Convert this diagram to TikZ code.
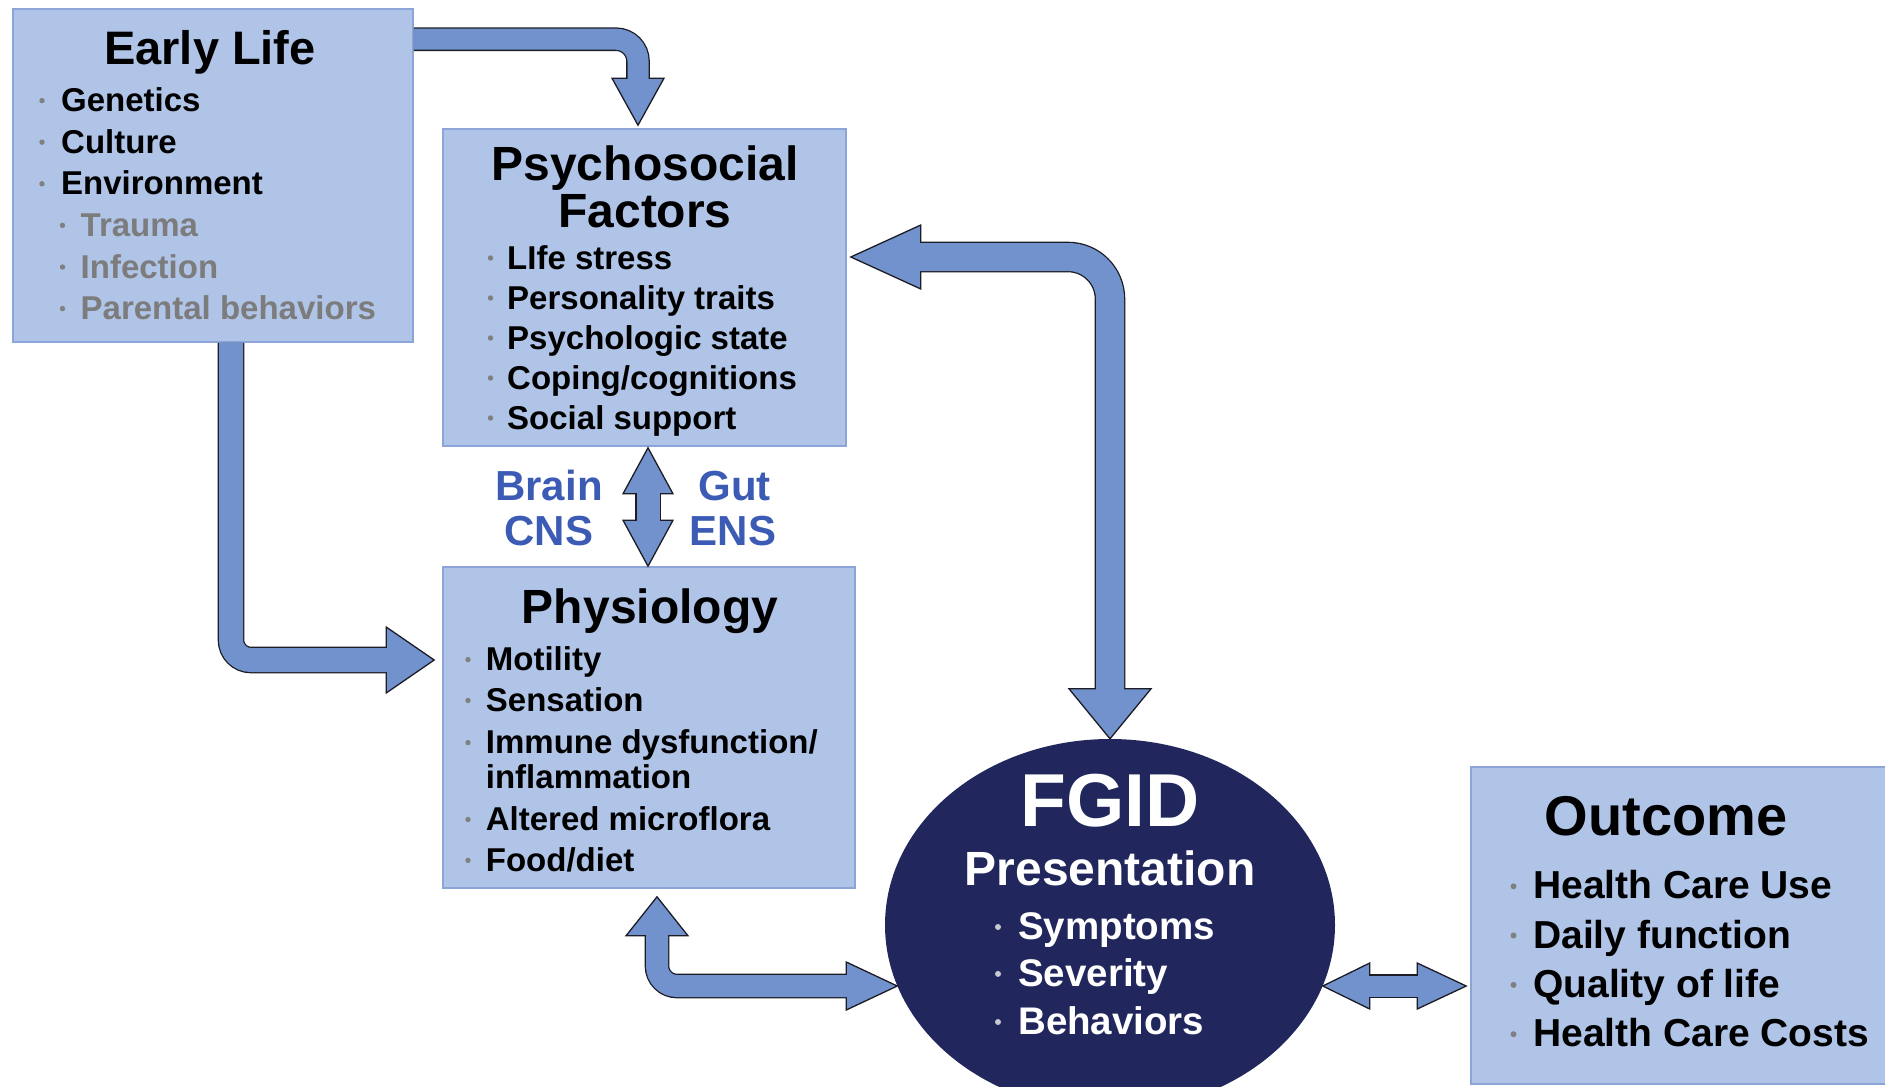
\documentclass[tikz,border=0pt]{standalone}
\usepackage{fontspec}
\setmainfont{Liberation Sans}
\usetikzlibrary{calc,shapes.geometric}

\definecolor{boxfill}{HTML}{B0C4E8}
\definecolor{boxline}{HTML}{8CA4D8}
\definecolor{arrowfill}{HTML}{7292CE}
\definecolor{arrowedge}{HTML}{1C1C24}
\definecolor{navy}{HTML}{21275C}
\definecolor{linkblue}{HTML}{3B5BB5}
\definecolor{dotgrey}{HTML}{808080}
\definecolor{subgrey}{HTML}{7C7C7C}
\definecolor{lightdot}{HTML}{C8C8D0}

\tikzset{
  box/.style={draw=boxline, fill=boxfill, line width=1.6pt, inner sep=0pt},
  title/.style={font=\bfseries\fontsize{48}{50}\selectfont, anchor=base, inner sep=0pt},
  item/.style={font=\bfseries\fontsize{33}{36}\selectfont, anchor=base west, inner sep=0pt},
  link/.style={font=\bfseries\fontsize{42}{44}\selectfont, anchor=base, inner sep=0pt, text=linkblue},
  fathead/.style={fill=arrowfill, draw=arrowedge, line width=1.3pt, line join=miter},
}

% tip, direction, length, half width
\newcommand{\headtip}[4]{\filldraw[fathead, shift={(#1)}, rotate=#2] (0,0) -- (-#3,#4) -- (-#3,-#4) -- cycle;}
% shaft width, corner radius, path, heads
\newcommand{\fatarrow}[4]{%
  \draw[arrowedge, line width=#1pt+2.6pt, rounded corners=#2pt] #3;
  #4
  \draw[arrowfill, line width=#1pt, rounded corners=#2pt] #3;}

\begin{document}
\begin{tikzpicture}[x=1pt, y=-1pt]
\useasboundingbox (0,0) rectangle (1885,1087);

% boxes
\node[box, minimum width=400pt, minimum height=333pt] (early) at (213,175.5) {};
\node[box, minimum width=403pt, minimum height=317pt] (psych) at (644.5,287.5) {};
\node[box, minimum width=412pt, minimum height=321pt] (physio) at (649,727.5) {};
\node[box, minimum width=424pt, minimum height=317pt] (outcome) at (1683,925.5) {};
\node[ellipse, fill=navy, minimum width=450pt, minimum height=372pt, inner sep=0pt] (fgid) at (1110,925) {};

% early life
\node[title, font=\bfseries\fontsize{47}{50}\selectfont] (early-title) at (210,64.5) {Early Life};
\foreach \txt [count=\i from 0] in {Genetics, Culture, Environment} {
  \fill[dotgrey] (42,111.6+41.6*\i-11) circle (2.7);
  \node[item] (early-\i) at (61,111.6+41.6*\i) {\txt};
}
\foreach \txt [count=\i from 3] in {Trauma, Infection, Parental behaviors} {
  \fill[dotgrey] (62.5,111.6+41.6*\i-11) circle (2.7);
  \node[item, text=subgrey] (early-\i) at (80.5,111.6+41.6*\i) {\txt};
}

% psychosocial
\node[title] (psych-title) at (645,180.7) {Psychosocial};
\node[title] (psych-title2) at (645,227.6) {Factors};
\foreach \txt [count=\i from 0] in {LIfe stress, Personality traits, Psychologic state, Coping/cognitions, Social support} {
  \fill[dotgrey] (490.5,269+40*\i-11) circle (2.7);
  \node[item] (psych-\i) at (507,269+40*\i) {\txt};
}

% brain gut
\node[link] (brain) at (549,500.7) {Brain};
\node[link] (cns) at (549,545) {CNS};
\node[link] (gut) at (734.5,500.7) {Gut};
\node[link] (ens) at (733,545) {ENS};

% physiology
\node[title] (physio-title) at (650,623) {Physiology};
\foreach \y/\txt [count=\i] in {670.6/Motility, 711.5/Sensation, 753.6/{Immune dysfunction/}, 830.5/Altered microflora, 871.4/{Food/diet}} {
  \fill[dotgrey] (468,\y-11) circle (2.7);
  \node[item] (physio-\i) at (485.7,\y) {\txt};
}
\node[item] (physio-3b) at (485.7,788.4) {inflammation};

% fgid
\node[title, text=white, font=\bfseries\fontsize{75}{78}\selectfont] (fgid-title) at (1110,826.5) {FGID};
\node[title, text=white] (fgid-sub) at (1110,885) {Presentation};
\foreach \y/\txt [count=\i] in {939.5/Symptoms, 986.4/Severity, 1034.5/Behaviors} {
  \fill[lightdot] (998,\y-12.5) circle (3);
  \node[item, text=white, font=\bfseries\fontsize{38.5}{40}\selectfont] (fgid-\i) at (1018,\y) {\txt};
}

% outcome
\node[title, font=\bfseries\fontsize{56}{58}\selectfont] (outcome-title) at (1666,835) {Outcome};
\foreach \y/\txt [count=\i] in {898.8/Health Care Use, 948/Daily function, 997.4/Quality of life, 1046.7/Health Care Costs} {
  \fill[dotgrey] (1513.5,\y-12.5) circle (3);
  \node[item, font=\bfseries\fontsize{39}{41}\selectfont] (outcome-\i) at (1533,\y) {\txt};
}

% arrow tips
\coordinate (a1tip) at ($(psych.north)+(-6.5,-3)$);
\coordinate (a2tip) at ($(physio.west)+(-8,-67.5)$);
\coordinate (a3up) at ($(psych.south)+(3.5,1)$);
\coordinate (a3dn) at ($(physio.north)+(-1,0)$);
\coordinate (a4l) at ($(psych.east)+(4,-30.5)$);
\coordinate (a4d) at (fgid.north);
\coordinate (a5u) at ($(physio.south)+(8,8)$);
\coordinate (a5r) at (fgid.196);
\coordinate (a6l) at (fgid.-16);
\coordinate (a6r) at ($(outcome.west |- a6l)+(-4,0)$);

% arrows
\fatarrow{21}{22}{($(early.north east)+(0,31)$) -| ($(a1tip)+(0,-43)$)}
  {\headtip{a1tip}{-90}{47}{26}}
\fatarrow{24}{20}{($(early.south)+(18,0)$) |- ($(a2tip)+(-44,0)$)}
  {\headtip{a2tip}{0}{48}{33}}
\fatarrow{23}{0}{($(a3up)+(0,42)$) -- ($(a3dn)+(0,-42)$)}
  {\headtip{a3up}{90}{46}{25}\headtip{a3dn}{-90}{46}{25}}
\fatarrow{28}{42}{($(a4l)+(66,0)$) -| ($(a4d)+(0,-46)$)}
  {\headtip{a4l}{180}{70}{32}\headtip{a4d}{-90}{50}{41}}
\fatarrow{22}{20}{($(a5u)+(0,35)$) |- ($(a5r)+(-47,0)$)}
  {\headtip{a5u}{90}{39}{31}\headtip{a5r}{0}{51}{24}}
\fatarrow{21}{0}{($(a6l)+(43,0)$) -- ($(a6r)+(-45,0)$)}
  {\headtip{a6l}{180}{47}{23}\headtip{a6r}{0}{49}{23}}
\end{tikzpicture}
\end{document}
